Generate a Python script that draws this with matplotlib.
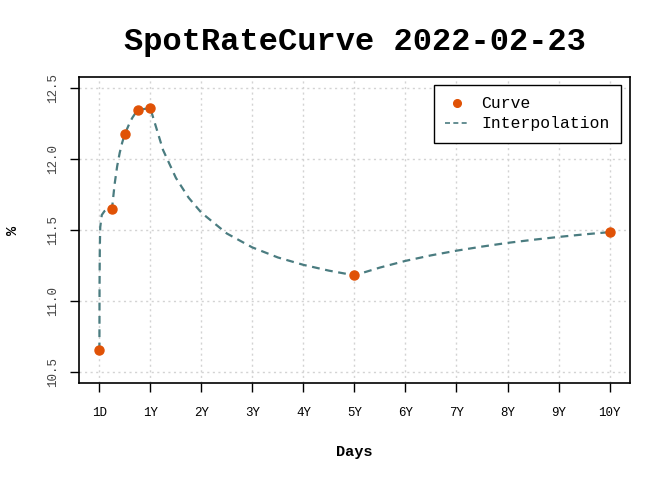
import matplotlib
matplotlib.use("Agg")
import matplotlib.pyplot as plt
from matplotlib.lines import Line2D

# Curve nodes (days, %)
curve_days = [1, 91, 182, 274, 365, 1825, 3650]
curve_rate = [10.65, 11.65, 12.175, 12.345, 12.36, 11.18, 11.485]

# Interpolation curve (days, %)
interp_days = [1, 2, 4, 7, 18, 37, 60, 91, 110, 128, 146, 164, 182, 219, 237, 256, 274,
               319, 365, 456, 548, 639, 730, 913, 1095, 1278, 1460, 1643, 1825,
               2008, 2190, 2373, 2555, 2738, 2920, 3103, 3285, 3468, 3650]
interp_rate = [10.65, 11.11, 11.38, 11.52, 11.606, 11.633, 11.645, 11.65, 11.825, 11.95,
               12.044, 12.117, 12.175, 12.26, 12.293, 12.321, 12.345,
               12.354, 12.36, 12.065, 11.868, 11.728, 11.6225, 11.475, 11.377, 11.306,
               11.254, 11.213, 11.18,
               11.235, 11.282, 11.321, 11.354, 11.383, 11.409, 11.431, 11.451, 11.469, 11.485]

tick_days = [1, 365, 730, 1095, 1460, 1825, 2190, 2555, 2920, 3285, 3650]
tick_labels = ["1D", "1Y", "2Y", "3Y", "4Y", "5Y", "6Y", "7Y", "8Y", "9Y", "10Y"]
ytick_vals = [10.5, 11.0, 11.5, 12.0, 12.5]
ytick_labels = ["10.5", "11.0", "11.5", "12.0", "12.5"]

FONT = "Liberation Mono"
pt_color = "#E05206"
line_color = "#4A7C80"

fig = plt.figure(figsize=(6.72, 4.8), dpi=100)
W, H = 672, 480
ax = fig.add_axes([79 / W, 1 - 383 / H, (630 - 79) / W, (383 - 77) / H])

ax.plot(interp_days, interp_rate, color=line_color, lw=1.6, ls=(0, (3.5, 2.5)), zorder=2)
ax.plot(curve_days, curve_rate, 'o', color=pt_color, ms=6.5, zorder=3)

span = 3650 - 1
ax.set_xlim(1 - 0.04 * span, 3650 + 0.04 * span)
ax.set_ylim(10.42, 12.58)

ax.set_xticks(tick_days)
ax.set_xticklabels(tick_labels, fontfamily=FONT, fontsize=9)
ax.set_yticks(ytick_vals)
ax.set_yticklabels(ytick_labels, fontfamily=FONT, fontsize=9, rotation=90,
                   va="center", color="#444444")
ax.tick_params(axis="x", length=6.5, width=1, pad=11)
ax.tick_params(axis="y", length=6.5, width=1, pad=8)

ax.grid(True, color="#D3D3D3", ls=(0, (1.5, 2.5)), lw=1)
ax.set_axisbelow(True)
for s in ax.spines.values():
    s.set_linewidth(1.2)
    s.set_color("black")

fig.text(354.5 / W, 1 - 42 / H, "SpotRateCurve 2022-02-23", fontfamily=FONT,
         fontweight="bold", fontsize=23, ha="center", va="center")
fig.text(354.5 / W, 1 - 452 / H, "Days", fontfamily=FONT, fontweight="bold",
         fontsize=11, ha="center", va="center")
fig.text(13 / W, 1 - 230 / H, "%", fontfamily=FONT, fontweight="bold",
         fontsize=11, ha="center", va="center", rotation=90)

handles = [Line2D([], [], ls="none", marker="o", color=pt_color, ms=5.5),
           Line2D([], [], color=line_color, lw=1.2, ls=(0, (3, 2)))]
leg = fig.legend(handles, ["Curve", "Interpolation"], loc="upper right",
                 bbox_to_anchor=(621 / W, 1 - 85 / H), borderaxespad=0,
                 prop={"family": FONT, "size": 11.8}, fancybox=False,
                 framealpha=1, edgecolor="black", handlelength=1.5,
                 handletextpad=0.7, borderpad=0.7, labelspacing=0.3)
leg.get_frame().set_linewidth(1.0)

fig.savefig("out.png", dpi=100)
